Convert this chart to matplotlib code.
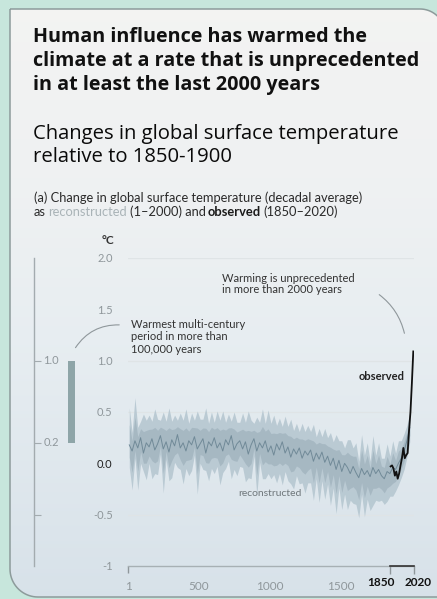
import numpy as np
import matplotlib
matplotlib.use('Agg')
import matplotlib.pyplot as plt
from matplotlib.path import Path
from matplotlib.patches import PathPatch, Rectangle

# ---------------- data ----------------
recon_years = np.arange(10, 2000, 20)
recon_median = [0.18, 0.12, 0.22, 0.15, 0.25, 0.10, 0.20, 0.16, 0.24, 0.13,
                0.19, 0.27, 0.14, 0.21, 0.11, 0.23, 0.17, 0.28, 0.15, 0.20,
                0.12, 0.22, 0.18, 0.26, 0.14, 0.19, 0.24, 0.10, 0.21, 0.17,
                0.25, 0.15, 0.20, 0.12, 0.23, 0.18, 0.27, 0.13, 0.19, 0.22,
                0.14, 0.21, 0.09, 0.18, 0.24, 0.12, 0.20, 0.15, 0.22, 0.11,
                0.17, 0.08, 0.19, 0.13, 0.21, 0.10, 0.16, 0.06, 0.14, 0.09,
                0.15, 0.05, 0.12, 0.08, 0.13, 0.02, 0.10, 0.04, 0.11, 0.01,
                0.07, -0.02, 0.05, -0.06, 0.03, -0.08, 0.00, -0.04, -0.10, -0.03,
                -0.09, -0.14, -0.05, -0.11, -0.07, -0.13, -0.04, -0.10, -0.06, -0.12,
                -0.15, -0.08, -0.10, -0.04, -0.06, 0.00, 0.05, 0.12, 0.22, 0.35]
recon_up = [0.36, 0.18, 0.42, 0.20, 0.16, 0.38, 0.22, 0.31, 0.17, 0.40,
            0.24, 0.15, 0.36, 0.20, 0.43, 0.18, 0.30, 0.14, 0.34, 0.22,
            0.41, 0.17, 0.31, 0.16, 0.37, 0.24, 0.19, 0.44, 0.18, 0.33,
            0.15, 0.36, 0.22, 0.39, 0.17, 0.30, 0.14, 0.37, 0.21, 0.18,
            0.35, 0.19, 0.42, 0.24, 0.15, 0.33, 0.20, 0.38, 0.17, 0.41,
            0.22, 0.39, 0.18, 0.31, 0.15, 0.36, 0.20, 0.37, 0.18, 0.30,
            0.16, 0.34, 0.19, 0.29, 0.18, 0.36, 0.16, 0.30, 0.15, 0.33,
            0.18, 0.32, 0.16, 0.34, 0.19, 0.30, 0.15, 0.27, 0.33, 0.18,
            0.29, 0.16, 0.33, 0.19, 0.27, 0.15, 0.31, 0.18, 0.26, 0.17,
            0.20, 0.27, 0.17, 0.26, 0.16, 0.22, 0.17, 0.17, 0.15, 0.14]
recon_down = [0.22, 0.38, 0.17, 0.41, 0.25, 0.18, 0.36, 0.16, 0.39, 0.23,
              0.30, 0.18, 0.43, 0.17, 0.28, 0.37, 0.16, 0.32, 0.21, 0.40,
              0.17, 0.34, 0.25, 0.18, 0.44, 0.19, 0.30, 0.17, 0.38, 0.22,
              0.35, 0.18, 0.41, 0.21, 0.28, 0.16, 0.42, 0.19, 0.31, 0.25,
              0.18, 0.39, 0.23, 0.33, 0.17, 0.43, 0.19, 0.30, 0.37, 0.21,
              0.32, 0.19, 0.38, 0.23, 0.42, 0.18, 0.33, 0.26, 0.39, 0.21,
              0.35, 0.24, 0.41, 0.27, 0.32, 0.38, 0.25, 0.42, 0.28, 0.36,
              0.27, 0.39, 0.29, 0.43, 0.27, 0.37, 0.30, 0.41, 0.26, 0.36,
              0.31, 0.39, 0.25, 0.41, 0.28, 0.33, 0.37, 0.26, 0.31, 0.24,
              0.25, 0.29, 0.22, 0.28, 0.21, 0.21, 0.19, 0.18, 0.16, 0.14]

obs_years = [1855, 1865, 1875, 1885, 1895, 1905, 1915, 1925, 1935, 1945,
             1955, 1965, 1975, 1985, 1995, 2005, 2015]
obs_values = [-0.03, -0.02, -0.05, -0.12, -0.08, -0.15, -0.10, -0.02, 0.05, 0.15,
              0.05, 0.08, 0.10, 0.32, 0.50, 0.78, 1.09]

warm_period = (0.2, 1.0)   # warmest multi-century period range

y_ticks = [-1, -0.5, 0.0, 0.5, 1.0, 1.5, 2.0]
y_ticklabels = ['-1', '-0.5', '0.0', '0.5', '1.0', '1.5', '2.0']
x_ticks = [1, 500, 1000, 1500]
x_ticklabels = ['1', '500', '1000', '1500']

# ---------------- figure ----------------
W, H = 437, 599
fig = plt.figure(figsize=(W / 100, H / 100), dpi=100)
renderer = fig.canvas.get_renderer()

bg = fig.add_axes([0, 0, 1, 1])
bg.set_xlim(0, W)
bg.set_ylim(H, 0)
bg.axis('off')
bg.add_patch(Rectangle((0, 0), W, H, color='#c7e6dc', zorder=0))

# panel outline
verts = [(10, 9), (420, 9)]
for a in np.linspace(-90, 0, 20):
    r = np.radians(a)
    verts.append((420 + 25 * np.cos(r), 34 + 25 * np.sin(r)))
verts += [(445, 597), (38, 597)]
for a in np.linspace(90, 180, 20):
    r = np.radians(a)
    verts.append((38 + 28 * np.cos(r), 569 + 28 * np.sin(r)))
verts.append((10, 9))
panel_path = Path(verts)
clip_patch = PathPatch(panel_path, facecolor='none', edgecolor='none')
bg.add_patch(clip_patch)
stops_y = np.array([0, 200, 350, 599]) / 599
stops_c = np.array([[0.955, 0.955, 0.950], [0.935, 0.945, 0.950],
                    [0.905, 0.930, 0.945], [0.845, 0.885, 0.915]])
yy = np.linspace(0, 1, 300)
grad = np.stack([np.interp(yy, stops_y, stops_c[:, k]) for k in range(3)], axis=-1)
grad = grad[:, None, :]
im = bg.imshow(grad, extent=[0, W, H, 0], aspect='auto', zorder=1, interpolation='bilinear')
im.set_clip_path(clip_patch)
bg.add_patch(PathPatch(panel_path, facecolor='none', edgecolor='#8d9b9b', lw=1.1, zorder=3))
bg.set_xlim(0, W)
bg.set_ylim(H, 0)


def fit(t, target):
    bb = t.get_window_extent(renderer)
    t.set_fontsize(t.get_fontsize() * target / bb.width)


def fy(y):
    return 1 - y / H


# titles
tfam = 'Open Sans'
t1 = fig.text(33 / W, fy(37), 'Human influence has warmed the', fontsize=13, fontweight='bold',
              family=tfam, va='center', color='#111111')
t2 = fig.text(33 / W, fy(61), 'climate at a rate that is unprecedented', fontsize=13,
              fontweight='bold', family=tfam, va='center', color='#111111')
t3 = fig.text(33 / W, fy(85), 'in at least the last 2000 years', fontsize=13, fontweight='bold',
              family=tfam, va='center', color='#111111')
fit(t2, 382)
for t in (t1, t3):
    t.set_fontsize(t2.get_fontsize())
s1 = fig.text(33 / W, fy(134), 'Changes in global surface temperature', fontsize=12,
              family=tfam, va='center', color='#0a0a0a')
s2 = fig.text(33 / W, fy(157), 'relative to 1850-1900', fontsize=12, family=tfam,
              va='center', color='#0a0a0a')
fit(s1, 365)
s2.set_fontsize(s1.get_fontsize())

cfam = 'Lato'
c1 = fig.text(34 / W, fy(198), '(a) Change in global surface temperature (decadal average)',
              fontsize=7, family=cfam, va='center', color='#2a2a2a')
fit(c1, 329)
cfs = c1.get_fontsize()
segs = [('as', '#2a2a2a', 'normal'), ('reconstructed', '#a9b3b7', 'normal'),
        ('(1–2000) and', '#2a2a2a', 'normal'), ('observed', '#1a1a1a', 'bold'),
        ('(1850–2020)', '#2a2a2a', 'normal')]
prev = fig.text(34 / W, fy(212), segs[0][0], fontsize=cfs, family=cfam, va='center',
                color=segs[0][1])
for txt, col, wt in segs[1:]:
    prev = bg.annotate(txt, xy=(1, 0), xycoords=prev, xytext=(1.8, 0),
                       textcoords='offset points', ha='left', va='bottom',
                       fontsize=cfs, family=cfam, color=col, fontweight=wt)

# ---------------- main axes ----------------
L, R, T, B = 128, 414, 258, 566
ax = fig.add_axes([L / W, 1 - B / H, (R - L) / W, (B - T) / H])
ax.set_facecolor('none')
ax.set_xlim(1, 2020)
ax.set_ylim(-1, 2)
for s in ('left', 'right', 'top'):
    ax.spines[s].set_visible(False)
ax.spines['bottom'].set_color('#a7b0b4')
ax.spines['bottom'].set_linewidth(1.0)

for g in [2.0, 1.0, 0.5, -0.5]:
    ax.axhline(g, color='#dfe4e6', lw=0.9, zorder=0.5)

med = np.array(recon_median)
up = np.array(recon_up)
dn = np.array(recon_down)
ax.fill_between(recon_years, med - dn, med + up, color='#b6c7d1', alpha=0.9, lw=0, zorder=2)
ax.fill_between(recon_years, med - 0.55 * dn, med + 0.55 * up, color='#a3b5c0', alpha=0.85,
                lw=0, zorder=2.5)
ax.plot(recon_years, med, color='#718a98', lw=0.7, zorder=3)
ax.plot(obs_years, obs_values, color='#111111', lw=1.3, zorder=4)

ax.set_yticks(y_ticks)
ax.set_yticklabels(y_ticklabels, family=cfam, fontsize=8)
ax.tick_params(axis='y', length=0, pad=11, colors='#8f979b')
for lab, v in zip(ax.get_yticklabels(), y_ticks):
    if v == 0.0:
        lab.set_color('#222222')

ax.set_xticks(x_ticks + [1850, 2020])
ax.set_xticklabels(x_ticklabels + ['', ''], family=cfam, fontsize=8.5)
ax.tick_params(axis='x', pad=7, colors='#8f979b', width=1.0)
ticks = ax.xaxis.get_major_ticks()
for i, tk in enumerate(ticks):
    if i == 0:
        tk.tick1line.set_markersize(5)
    elif i >= 4:
        tk.tick1line.set_markersize(6)
        tk.tick1line.set_color('#333333')
    else:
        tk.tick1line.set_markersize(0)
ax.plot([1850, 2020], [-1, -1], color='#333333', lw=1.2, clip_on=False, zorder=5)
lab_y = -1 - 16 / ((B - T) / 3)
ax.text(1787, lab_y, '1850', ha='center', va='center', fontsize=8.5, family=cfam,
        fontweight='bold', color='#111111', clip_on=False)
ax.text(2048, lab_y, '2020', ha='center', va='center', fontsize=8.5, family=cfam,
        fontweight='bold', color='#111111', clip_on=False)

fig.text(108 / W, fy(240), '°C', fontsize=8.5, family=cfam, fontweight='bold',
         color='#333333', ha='center', va='center')

ax.text(1000, -0.29, 'reconstructed', ha='center', va='center', fontsize=7.5,
        family=cfam, color='#6f777b')
ax.text(1955, 0.85, 'observed', ha='right', va='center', fontsize=8, family=cfam,
        fontweight='bold', color='#222222')

# ---------------- left inset ----------------
ax2 = fig.add_axes([34 / W, 1 - B / H, 46 / W, (B - T) / H])
ax2.set_facecolor('none')
ax2.set_xlim(0, 1)
ax2.set_ylim(-1, 2)
for s in ('right', 'top', 'bottom'):
    ax2.spines[s].set_visible(False)
ax2.spines['left'].set_color('#a3abaf')
ax2.spines['left'].set_linewidth(1.0)
ax2.set_xticks([])
ax2.set_yticks([1.0, 0.2, -0.5])
ax2.set_yticklabels([])
ax2.tick_params(axis='y', direction='in', length=5, colors='#a3abaf')
ax2.bar(0.815, warm_period[1] - warm_period[0], bottom=warm_period[0], width=0.15,
        color='#8ea5a8', zorder=3)
for v in (1.0, 0.2):
    ax2.text(0.2, v, f'{v:.1f}', ha='left', va='center', fontsize=8, family=cfam,
             color='#8f979b')

# ---------------- annotations ----------------
fig.text(131 / W, fy(337), 'Warmest multi-century\nperiod in more than\n100,000 years',
         fontsize=8, family=cfam, color='#333333', va='center', linespacing=1.15)
fig.text(222 / W, fy(284), 'Warming is unprecedented\nin more than 2000 years',
         fontsize=8, family=cfam, color='#333333', va='center', linespacing=1.1)
bg.annotate('', xy=(74, 350), xytext=(122, 325),
            arrowprops=dict(arrowstyle='-', color='#8f979b', lw=0.8,
                            connectionstyle='arc3,rad=0.3'))
bg.annotate('', xy=(405, 336), xytext=(377, 293),
            arrowprops=dict(arrowstyle='-', color='#8f979b', lw=0.8,
                            connectionstyle='arc3,rad=-0.2'))

fig.savefig('out.png', dpi=100)
